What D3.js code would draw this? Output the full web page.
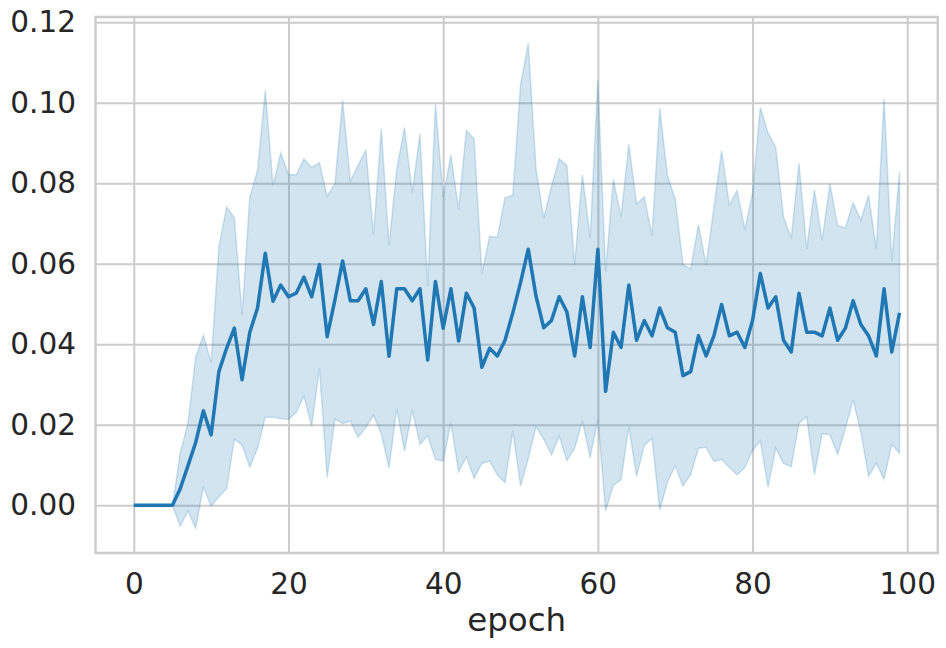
<!DOCTYPE html>
<html>
<head>
<meta charset="utf-8">
<script src="https://cdn.jsdelivr.net/npm/d3@7"></script>
<style>
  body { margin: 0; background: #fff; }
  .tick text { font-family: "DejaVu Sans", sans-serif; fill: #262626; }
</style>
</head>
<body>
<div id="chart"></div>
<script>
// values, one per epoch (0..99)
var meanVals = [
  0, 0, 0, 0, 0, 0, 0.0041, 0.0098, 0.0156, 0.0235,
  0.0175, 0.0332, 0.0390, 0.0440, 0.0312, 0.0430, 0.0490, 0.0626, 0.0507, 0.0547,
  0.0518, 0.0527, 0.0567, 0.0518, 0.0598, 0.0419, 0.0510, 0.0607, 0.0508, 0.0508,
  0.0538, 0.0449, 0.0556, 0.0370, 0.0538, 0.0538, 0.0508, 0.0538, 0.0361, 0.0556,
  0.0440, 0.0538, 0.0408, 0.0527, 0.0490, 0.0343, 0.0390, 0.0371, 0.0410, 0.0478,
  0.0553, 0.0636, 0.0520, 0.0441, 0.0459, 0.0518, 0.0480, 0.0371, 0.0518, 0.0392,
  0.0636, 0.0283, 0.0430, 0.0392, 0.0547, 0.0410, 0.0459, 0.0421, 0.0490, 0.0441,
  0.0430, 0.0322, 0.0332, 0.0421, 0.0371, 0.0421, 0.0499, 0.0421, 0.0430, 0.0392,
  0.0459, 0.0576, 0.0490, 0.0518, 0.0410, 0.0381, 0.0527, 0.0430, 0.0430, 0.0421,
  0.0490, 0.0410, 0.0440, 0.0508, 0.0449, 0.0421, 0.0371, 0.0538, 0.0381, 0.0478
];

var upperVals = [
  0, 0, 0, 0, 0, 0, 0.0129, 0.0204, 0.0368, 0.0423,
  0.0355, 0.0642, 0.0741, 0.0714, 0.0472, 0.0766, 0.0832, 0.1031, 0.0794, 0.0876,
  0.0821, 0.0821, 0.0860, 0.0839, 0.0851, 0.0768, 0.0799, 0.1006, 0.0805, 0.0845,
  0.0882, 0.0673, 0.0935, 0.0646, 0.0836, 0.0938, 0.0776, 0.0923, 0.0545, 0.0997,
  0.0766, 0.0870, 0.0735, 0.0932, 0.0909, 0.0576, 0.0668, 0.0666, 0.0764, 0.0770,
  0.1044, 0.1148, 0.0836, 0.0713, 0.0792, 0.0861, 0.0844, 0.0598, 0.0821, 0.0664,
  0.1056, 0.0580, 0.0810, 0.0717, 0.0897, 0.0749, 0.0766, 0.0670, 0.0987, 0.0819,
  0.0761, 0.0598, 0.0587, 0.0697, 0.0598, 0.0739, 0.0881, 0.0746, 0.0782, 0.0686,
  0.0775, 0.0989, 0.0925, 0.0889, 0.0717, 0.0664, 0.0850, 0.0637, 0.0783, 0.0658,
  0.0799, 0.0695, 0.0689, 0.0752, 0.0708, 0.0770, 0.0637, 0.1011, 0.0607, 0.0828
];

var lowerVals = [
  0, 0, 0, 0, 0, 0, -0.0052, -0.0014, -0.0057, 0.0045,
  -0.0002, 0.0021, 0.0041, 0.0164, 0.0149, 0.0095, 0.0142, 0.0219, 0.0219, 0.0215,
  0.0213, 0.0231, 0.0271, 0.0197, 0.0340, 0.0069, 0.0214, 0.0203, 0.0209, 0.0169,
  0.0193, 0.0224, 0.0178, 0.0092, 0.0241, 0.0134, 0.0237, 0.0151, 0.0173, 0.0114,
  0.0110, 0.0204, 0.0083, 0.0120, 0.0067, 0.0104, 0.0110, 0.0076, 0.0056, 0.0184,
  0.0048, 0.0116, 0.0195, 0.0164, 0.0125, 0.0172, 0.0111, 0.0142, 0.0210, 0.0118,
  0.0213, -0.0014, 0.0050, 0.0063, 0.0195, 0.0072, 0.0149, 0.0166, -0.0012, 0.0058,
  0.0098, 0.0048, 0.0076, 0.0142, 0.0144, 0.0109, 0.0114, 0.0094, 0.0076, 0.0094,
  0.0136, 0.0160, 0.0045, 0.0142, 0.0104, 0.0096, 0.0204, 0.0220, 0.0076, 0.0178,
  0.0175, 0.0126, 0.0191, 0.0262, 0.0182, 0.0072, 0.0104, 0.0065, 0.0151, 0.0129
];

var xTicks = [0, 20, 40, 60, 80, 100];
var yTicks = [0, 0.02, 0.04, 0.06, 0.08, 0.10, 0.12];
var xLabel = "epoch";

var svgWidth = 946;
var svgHeight = 648;
var margin = { top: 17, right: 8.2, bottom: 95, left: 95.5 };
var width = svgWidth - margin.left - margin.right;
var height = svgHeight - margin.top - margin.bottom;

var blue = "#1f77b4";
var gridColor = "#cccccc";
var tickFont = "29.5px";

var svg = d3.select("#chart")
  .append("svg")
  .attr("width", svgWidth)
  .attr("height", svgHeight);

var chartGroup = svg.append("g")
  .attr("transform", `translate(${margin.left}, ${margin.top})`);

var rows = meanVals.map((m, i) => ({ epoch: i, mean: m, lo: lowerVals[i], hi: upperVals[i] }));

var xScale = d3.scaleLinear().domain([-4.95, 103.95]).range([0, width]);
var yScale = d3.scaleLinear().domain([-0.01185, 0.1213]).range([height, 0]);

// x axis + vertical grid
var xAxis = chartGroup.append("g")
  .attr("transform", `translate(0, ${height})`)
  .call(d3.axisBottom(xScale)
    .tickValues(xTicks)
    .tickFormat(d3.format("d"))
    .tickSize(-height)
    .tickPadding(20));

// y axis + horizontal grid
var yAxis = chartGroup.append("g")
  .call(d3.axisLeft(yScale)
    .tickValues(yTicks)
    .tickFormat(d3.format(".2f"))
    .tickSize(-width)
    .tickPadding(19.5));

[xAxis, yAxis].forEach(function(ax) {
  ax.select(".domain").remove();
  ax.selectAll(".tick line").attr("stroke", gridColor).attr("stroke-width", 2);
  ax.selectAll(".tick text").style("font-size", tickFont);
});

// confidence band
var band = d3.area()
  .x(d => xScale(d.epoch))
  .y0(d => yScale(d.lo))
  .y1(d => yScale(d.hi));

chartGroup.append("path")
  .datum(rows)
  .attr("d", band)
  .attr("fill", blue)
  .attr("fill-opacity", 0.2)
  .attr("stroke", blue)
  .attr("stroke-opacity", 0.2)
  .attr("stroke-width", 1.5);

// mean line
var line = d3.line()
  .x(d => xScale(d.epoch))
  .y(d => yScale(d.mean));

chartGroup.append("path")
  .datum(rows)
  .attr("d", line)
  .attr("fill", "none")
  .attr("stroke", blue)
  .attr("stroke-width", 3.5)
  .attr("stroke-linejoin", "round");

// frame
chartGroup.append("rect")
  .attr("width", width)
  .attr("height", height)
  .attr("fill", "none")
  .attr("stroke", gridColor)
  .attr("stroke-width", 2.5);

// x label
chartGroup.append("text")
  .attr("x", width / 2)
  .attr("y", height + 77.7)
  .attr("text-anchor", "middle")
  .style("font-family", "DejaVu Sans, sans-serif")
  .style("font-size", "32.5px")
  .style("fill", "#262626")
  .text(xLabel);
</script>
</body>
</html>
